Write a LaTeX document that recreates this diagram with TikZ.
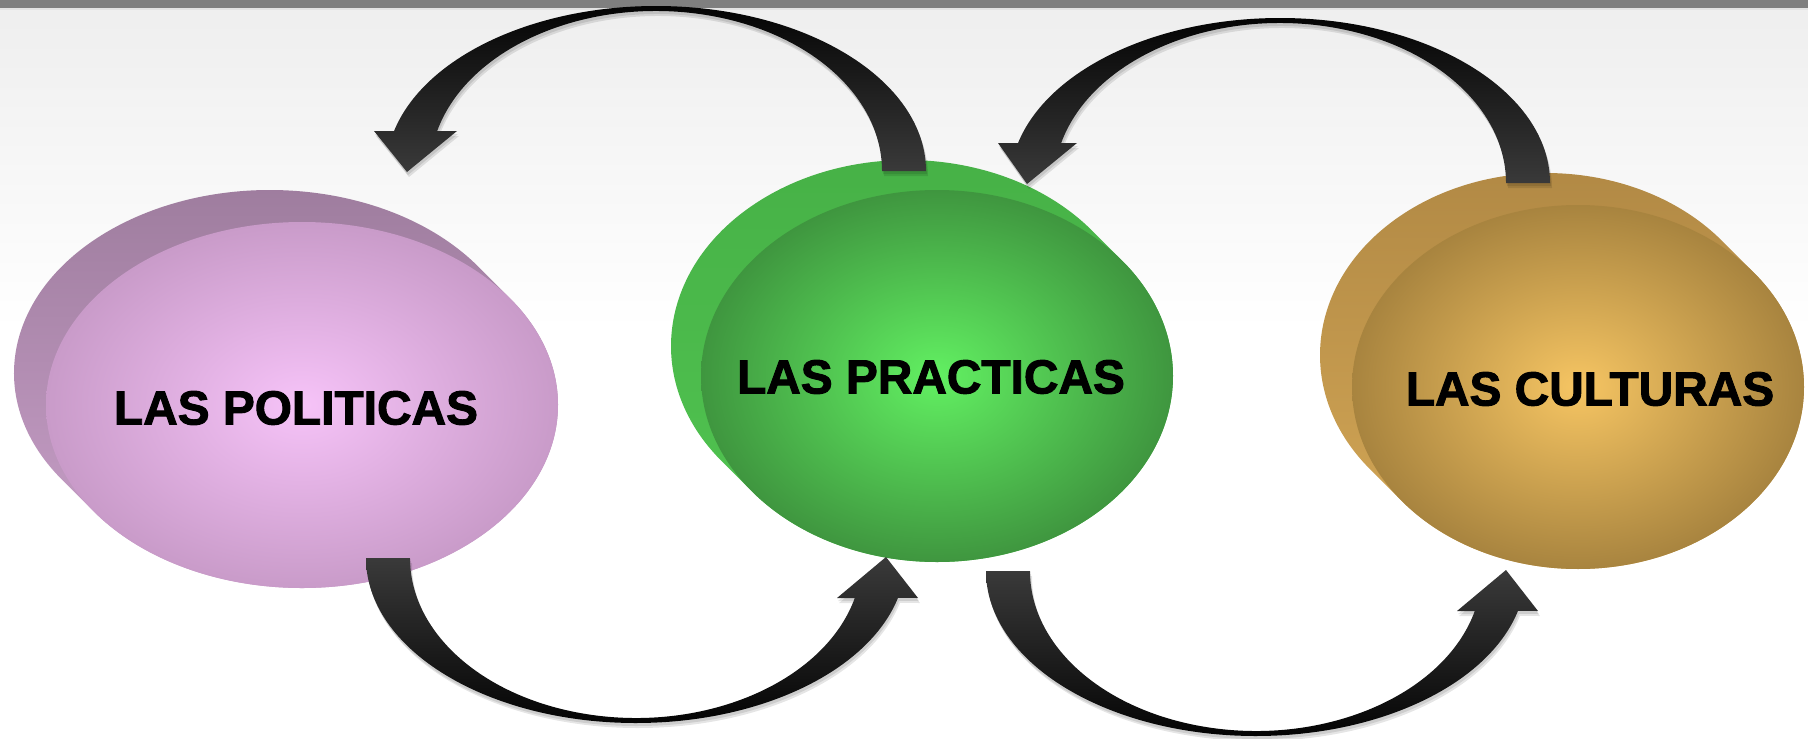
\documentclass[tikz,border=0pt]{standalone}
\usepackage{fontspec}
\setmainfont{Liberation Sans}
\newfontfamily\lblfont{Liberation Sans Bold}[FakeBold=2]
\usetikzlibrary{calc}
\definecolor{barGray}{HTML}{7F7F7F}
\definecolor{arrowGray}{HTML}{3A3A3A}
\definecolor{polIn}{HTML}{F6C3F8}
\definecolor{polOut}{HTML}{C99BC9}
\definecolor{polSideT}{HTML}{9C7B9C}
\definecolor{polSideB}{HTML}{CDA3CD}
\definecolor{praIn}{HTML}{62F062}
\definecolor{praOut}{HTML}{3F963F}
\definecolor{praSideT}{HTML}{46B046}
\definecolor{praSideB}{HTML}{52C652}
\definecolor{culIn}{HTML}{F6C563}
\definecolor{culOut}{HTML}{A8843F}
\definecolor{culSideT}{HTML}{B08844}
\definecolor{culSideB}{HTML}{D6A957}
\tikzset{
  lbl/.style={font=\lblfont\fontsize{13.6}{16}\selectfont, text=black, inner sep=0pt},
  arrowtop/.style={top color=black, middle color=black, bottom color=arrowGray},
  arrowbot/.style={top color=arrowGray, middle color=black, bottom color=black},
  arrshadow/.style={fill=black, fill opacity=0.10},
  % block arrow outlines
  arrA/.style={insert path={(926,-171) arc[start angle=0,end angle=166,x radius=270,y radius=165]
    -- (374,-131) -- (407,-172) -- (457,-131) -- (437.2,-131)
    arc[start angle=165.52,end angle=0,x radius=226,y radius=160] -- cycle}},
  arrB/.style={insert path={(1550,-183) arc[start angle=0,end angle=166,x radius=270,y radius=165]
    -- (998,-143) -- (1027,-184) -- (1077,-143) -- (1061.2,-143)
    arc[start angle=165.52,end angle=0,x radius=226,y radius=160] -- cycle}},
  arrC/.style={insert path={(366,-558) arc[start angle=180,end angle=346,x radius=270,y radius=165]
    -- (918,-598) -- (886,-557) -- (837,-598) -- (854.8,-598)
    arc[start angle=345.52,end angle=180,x radius=226,y radius=160] -- cycle}},
  arrD/.style={insert path={(986,-571) arc[start angle=180,end angle=346,x radius=270,y radius=165]
    -- (1538,-611) -- (1506,-570) -- (1457,-611) -- (1474.8,-611)
    arc[start angle=345.52,end angle=180,x radius=226,y radius=160] -- cycle}},
}
% #1 cx, #2 cy, #3 a, #4 b, #5 depth, #6 side top, #7 side bottom, #8 face inner, #9 face outer
\newcommand\ddisk[9]{%
  \pgfmathsetmacro\dkt{atan(#4/#3)}%
  \pgfmathsetmacro\dkx{#1+#3*cos(\dkt)}%
  \pgfmathsetmacro\dky{#2+#4*sin(\dkt)}%
  \shade[top color=#6, middle color=#7, bottom color=#7]
    (\dkx,\dky) -- ++(-#5,#5)
    arc[start angle=\dkt, end angle=\dkt+180, x radius=#3, y radius=#4]
    -- ++(#5,-#5)
    arc[start angle=\dkt+180, end angle=\dkt+360, x radius=#3, y radius=#4] -- cycle;
  \shade[inner color=#8, outer color=#9] (#1,#2) ellipse [x radius=#3, y radius=#4];
}
\begin{document}
\begin{tikzpicture}[x=0.01cm,y=0.01cm]
\useasboundingbox (0,0) rectangle (1808,-739);
% background
\fill[white] (0,0) rectangle (1808,-739);
\shade[top color=gray!13, bottom color=white] (0,-8) rectangle (1808,-330);
\fill[barGray] (0,0) rectangle (1808,-7.5);
\fill[gray!22] (0,-7.5) rectangle (1808,-9.5);

% disks
\ddisk{302}{-405}{256}{183}{32}{polSideT}{polSideB}{polIn}{polOut}
\ddisk{937}{-376}{236}{186}{30}{praSideT}{praSideB}{praIn}{praOut}
\ddisk{1578}{-387}{226}{182}{32}{culSideT}{culSideB}{culIn}{culOut}

\node[lbl] (pol) at (296,-408) {LAS POLITICAS};
\node[lbl] (pra) at (931,-377) {LAS PRACTICAS};
\node[lbl] (cul) at (1590,-389) {LAS CULTURAS};

% soft shadows of the arrows
\foreach \dx/\dy in {1/-3, 2/-5}{
  \begin{scope}[xshift=\dx*0.01cm, yshift=\dy*0.01cm]
    \path[arrshadow, arrA];
    \path[arrshadow, arrB];
    \path[arrshadow, arrC];
    \path[arrshadow, arrD];
  \end{scope}
}
% arrows
\shade[arrowtop, arrA];
\shade[arrowtop, arrB];
\shade[arrowbot, arrC];
\shade[arrowbot, arrD];
\end{tikzpicture}
\end{document}
